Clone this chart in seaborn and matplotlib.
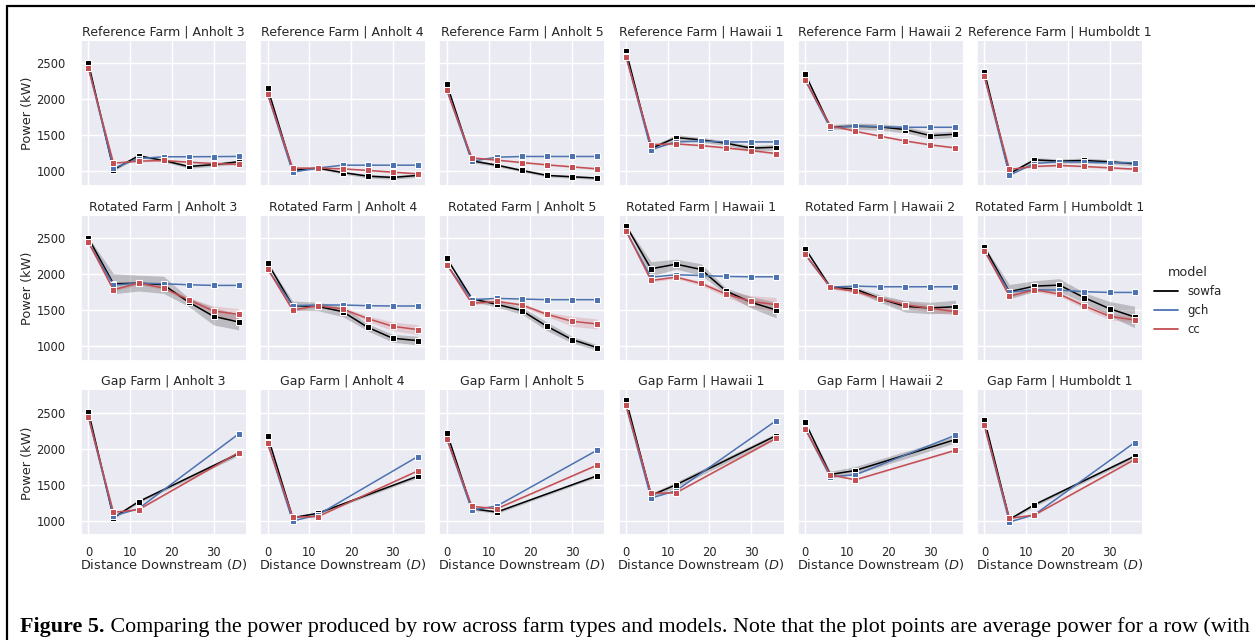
import pandas as pd
import matplotlib.pyplot as plt
import seaborn as sns
from matplotlib.lines import Line2D


FARMS = ["Reference Farm", "Rotated Farm", "Gap Farm"]
SITES = ["Anholt 3", "Anholt 4", "Anholt 5", "Hawaii 1", "Hawaii 2", "Humboldt 1"]
MODELS = ["sowfa", "gch", "cc"]
PALETTE = {"sowfa": "black", "gch": "#4c72b0", "cc": "#c44e52"}

# distance downstream (D) of each turbine row
ROW_DIST = [0, 6, 12, 18, 24, 30, 36]
GAP_DIST = [0, 6, 12, 36]

# mean row power (kW), one list per site
REF_SOWFA = [
    [2500, 1020, 1213, 1148, 1065, 1090, 1130],
    [2157, 1010, 1042, 980, 930, 912, 940],
    [2213, 1143, 1083, 1009, 940, 921, 903],
    [2676, 1315, 1468, 1435, 1389, 1320, 1333],
    [2352, 1616, 1625, 1616, 1579, 1495, 1514],
    [2384, 965, 1157, 1139, 1148, 1130, 1102],
]
REF_GCH = [
    [2440, 1042, 1175, 1200, 1200, 1202, 1205],
    [2070, 986, 1042, 1083, 1083, 1083, 1083],
    [2130, 1139, 1194, 1204, 1204, 1204, 1204],
    [2600, 1301, 1407, 1417, 1407, 1407, 1407],
    [2270, 1602, 1630, 1620, 1611, 1611, 1611],
    [2320, 944, 1106, 1130, 1125, 1116, 1116],
]
REF_CC = [
    [2435, 1111, 1139, 1148, 1125, 1106, 1093],
    [2074, 1042, 1042, 1032, 1010, 986, 963],
    [2130, 1185, 1153, 1120, 1088, 1060, 1032],
    [2593, 1370, 1380, 1356, 1324, 1287, 1245],
    [2269, 1634, 1556, 1486, 1421, 1366, 1324],
    [2320, 1023, 1065, 1079, 1065, 1046, 1028],
]
# half width of the confidence band (kW)
REF_SOWFA_CI = [
    [10, 20, 20, 20, 25, 25, 25],
    [10, 15, 15, 20, 25, 25, 25],
    [10, 25, 20, 20, 20, 20, 20],
    [10, 30, 40, 35, 30, 35, 40],
    [10, 30, 45, 45, 45, 45, 45],
    [10, 25, 30, 30, 35, 30, 30],
]
REF_CC_CI = [
    [5, 10, 10, 10, 12, 12, 12],
    [5, 10, 10, 10, 12, 12, 12],
    [5, 10, 10, 10, 12, 12, 12],
    [5, 10, 10, 10, 12, 12, 12],
    [5, 10, 10, 10, 12, 12, 12],
    [5, 10, 10, 10, 12, 12, 12],
]

ROT_SOWFA = [
    [2500, 1866, 1875, 1852, 1611, 1412, 1333],
    [2153, 1560, 1550, 1477, 1259, 1106, 1074],
    [2218, 1657, 1579, 1491, 1273, 1088, 977],
    [2676, 2074, 2139, 2065, 1764, 1607, 1500],
    [2357, 1819, 1792, 1657, 1551, 1528, 1546],
    [2375, 1755, 1833, 1847, 1671, 1519, 1403],
]
ROT_GCH = [
    [2440, 1847, 1875, 1866, 1852, 1843, 1843],
    [2070, 1560, 1570, 1570, 1560, 1556, 1556],
    [2130, 1644, 1662, 1653, 1644, 1644, 1644],
    [2600, 1958, 1991, 1981, 1968, 1963, 1963],
    [2270, 1819, 1833, 1824, 1824, 1824, 1824],
    [2320, 1750, 1782, 1778, 1755, 1745, 1745],
]
ROT_CC = [
    [2444, 1782, 1875, 1806, 1644, 1486, 1440],
    [2074, 1500, 1560, 1514, 1380, 1273, 1227],
    [2134, 1593, 1620, 1570, 1440, 1343, 1306],
    [2607, 1912, 1958, 1870, 1722, 1620, 1574],
    [2278, 1815, 1759, 1657, 1574, 1523, 1477],
    [2329, 1694, 1782, 1722, 1556, 1412, 1361],
]
ROT_SOWFA_CI = [
    [15, 140, 110, 120, 60, 120, 110],
    [15, 65, 60, 70, 50, 55, 60],
    [15, 30, 40, 50, 60, 45, 40],
    [15, 100, 70, 80, 40, 80, 110],
    [15, 25, 30, 50, 80, 80, 90],
    [15, 100, 75, 90, 70, 100, 150],
]
ROT_CC_CI = [
    [10, 20, 20, 25, 30, 70, 80],
    [10, 20, 20, 25, 40, 60, 70],
    [10, 20, 20, 25, 30, 70, 70],
    [10, 20, 20, 30, 40, 80, 100],
    [10, 15, 25, 35, 45, 50, 50],
    [10, 20, 25, 30, 40, 45, 45],
]

GAP_SOWFA = [
    [2518, 1042, 1264, 1935],
    [2180, 1042, 1102, 1620],
    [2227, 1167, 1120, 1625],
    [2685, 1352, 1500, 2185],
    [2370, 1643, 1699, 2130],
    [2407, 1018, 1222, 1898],
]
GAP_GCH = [
    [2440, 1065, 1167, 2208],
    [2080, 995, 1079, 1894],
    [2140, 1148, 1204, 1981],
    [2600, 1315, 1417, 2394],
    [2280, 1611, 1639, 2190],
    [2320, 981, 1083, 2088],
]
GAP_CC = [
    [2449, 1116, 1153, 1949],
    [2079, 1051, 1056, 1694],
    [2144, 1199, 1167, 1773],
    [2611, 1380, 1389, 2148],
    [2282, 1639, 1569, 1981],
    [2329, 1032, 1079, 1852],
]
GAP_SOWFA_CI = [
    [10, 20, 20, 30],
    [10, 15, 15, 25],
    [10, 20, 20, 20],
    [10, 30, 40, 35],
    [10, 45, 55, 45],
    [10, 20, 25, 25],
]
GAP_CC_CI = [
    [5, 8, 8, 10],
    [5, 8, 8, 10],
    [5, 8, 8, 10],
    [5, 8, 8, 10],
    [5, 8, 8, 10],
    [5, 8, 8, 10],
]


def build_frame():
    farm_data = {
        "Reference Farm": (ROW_DIST, REF_SOWFA, REF_GCH, REF_CC, REF_SOWFA_CI, REF_CC_CI),
        "Rotated Farm": (ROW_DIST, ROT_SOWFA, ROT_GCH, ROT_CC, ROT_SOWFA_CI, ROT_CC_CI),
        "Gap Farm": (GAP_DIST, GAP_SOWFA, GAP_GCH, GAP_CC, GAP_SOWFA_CI, GAP_CC_CI),
    }
    records = []
    for farm in FARMS:
        dist, sowfa, gch, cc, sowfa_ci, cc_ci = farm_data[farm]
        for i, site in enumerate(SITES):
            series = {
                "sowfa": (sowfa[i], sowfa_ci[i]),
                "gch": (gch[i], [0] * len(dist)),
                "cc": (cc[i], cc_ci[i]),
            }
            for model in MODELS:
                vals, ci = series[model]
                for d, v, c in zip(dist, vals, ci):
                    records.append(dict(farm=farm, site=site, model=model,
                                        distance=d, power=v, ci=c))
    return pd.DataFrame(records)


def main():
    df = build_frame()

    sns.set_theme(style="darkgrid", rc={
        "xtick.labelsize": 8.3,
        "ytick.labelsize": 8.3,
        "xtick.major.pad": 1.5,
        "ytick.major.pad": 5,
        "axes.labelsize": 9.3,
        "axes.labelpad": 1.5,
        "axes.titlepad": 4,
        "legend.fontsize": 8.5,
        "legend.title_fontsize": 9.2,
    })

    g = sns.relplot(
        data=df, kind="line",
        x="distance", y="power", hue="model", hue_order=MODELS,
        row="farm", row_order=FARMS, col="site", col_order=SITES,
        palette=PALETTE, marker="s", markersize=4.5, linewidth=1.1,
        errorbar=None, height=2, aspect=1.1,
    )

    # confidence bands
    for (farm, site), ax in g.axes_dict.items():
        for model in ["sowfa", "cc"]:
            sub = df[(df.farm == farm) & (df.site == site) & (df.model == model)]
            ax.fill_between(sub.distance, sub.power - sub.ci, sub.power + sub.ci,
                            color=PALETTE[model], alpha=0.2, linewidth=0)

    g.set_titles("{row_name} | {col_name}", size=9)
    g.set_axis_labels("Distance Downstream ($D$)", "Power (kW)")
    g.set(ylim=(796, 2814), xticks=[0, 10, 20, 30], yticks=[1000, 1500, 2000, 2500])
    for ax in g.axes[-1]:
        ax.xaxis.labelpad = -1.5

    for h in g.legend.legend_handles:
        h.set_marker("")
        h.set_linewidth(1.3)
    sns.move_legend(g, "center left", bbox_to_anchor=(0.911, 0.53), frameon=False)

    fig = g.figure
    fig.set_size_inches(12.55, 6.4)
    fig.subplots_adjust(left=0.0645, right=0.910, top=0.936, bottom=0.1636,
                        wspace=0.085, hspace=0.207)

    # page frame
    fig.add_artist(Line2D([7 / 1255, 7 / 1255], [0, 1 - 6 / 640],
                          transform=fig.transFigure, color="black", lw=1.6))
    fig.add_artist(Line2D([7 / 1255, 1], [1 - 6 / 640, 1 - 6 / 640],
                          transform=fig.transFigure, color="black", lw=1.6))

    # caption
    cap = fig.text(20.5 / 1255, 1 - 632 / 640, "Figure 5.", family="Liberation Serif",
                   weight="bold", fontsize=15.8, va="baseline", color="black")
    g.axes[0, 0].annotate(
        " Comparing the power produced by row across farm types and models. "
        "Note that the plot points are average power for a row (with",
        xy=(1, 0), xycoords=cap, va="bottom", ha="left",
        family="Liberation Serif", fontsize=15.8, color="black",
        annotation_clip=False,
    )

    fig.savefig("out.png", dpi=100)
    plt.close(fig)


if __name__ == "__main__":
    main()
